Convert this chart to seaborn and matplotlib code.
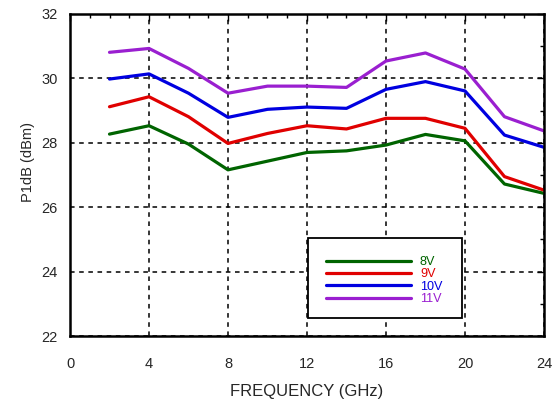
import matplotlib
matplotlib.use("Agg")
import matplotlib.pyplot as plt
import numpy as np
import pandas as pd
import seaborn as sns
from matplotlib.patches import Rectangle
from matplotlib.ticker import MultipleLocator

# Data
freq = [2, 4, 6, 8, 10, 12, 14, 16, 18, 20, 22, 24]
p1db_8v = [28.27, 28.53, 27.96, 27.16, 27.43, 27.70, 27.75, 27.93, 28.26, 28.06, 26.72, 26.43]
p1db_9v = [29.12, 29.43, 28.81, 27.98, 28.29, 28.53, 28.43, 28.76, 28.76, 28.45, 26.95, 26.53]
p1db_10v = [29.98, 30.14, 29.54, 28.79, 29.04, 29.11, 29.07, 29.66, 29.90, 29.61, 28.24, 27.86]
p1db_11v = [30.81, 30.93, 30.31, 29.54, 29.76, 29.76, 29.72, 30.54, 30.79, 30.29, 28.81, 28.37]
voltages = ["8V", "9V", "10V", "11V"]
colors = ["#006400", "#e00000", "#0000e0", "#9a1fd0"]

df = pd.DataFrame({
    "freq": freq * 4,
    "p1db": p1db_8v + p1db_9v + p1db_10v + p1db_11v,
    "volt": [v for v in voltages for _ in freq],
})

sns.set_style("white")
plt.rcParams["font.family"] = ["Liberation Sans", "DejaVu Sans"]

fig = plt.figure(figsize=(5.53, 4.0), dpi=100)
ax = fig.add_axes([0.1266, 0.16, 0.8571, 0.805])

sns.lineplot(data=df, x="freq", y="p1db", hue="volt", hue_order=voltages,
             palette=colors, linewidth=2.3, ax=ax, legend=False)

ax.set_xlim(0, 24)
ax.set_ylim(22, 32)
ax.xaxis.set_major_locator(MultipleLocator(4))
ax.xaxis.set_minor_locator(MultipleLocator(1))
ax.yaxis.set_major_locator(MultipleLocator(2))
ax.yaxis.set_minor_locator(MultipleLocator(1))
ax.tick_params(which="both", direction="in", top=True, right=True,
               color="black", labelsize=10.5, width=1.0)
ax.tick_params(which="major", length=5)
ax.tick_params(axis="x", which="major", pad=15)
ax.tick_params(axis="y", which="major", pad=9)
ax.tick_params(which="minor", length=3)
ax.grid(True, which="major", color="black", linestyle=(0, (3, 3)), linewidth=1.1)
for s in ax.spines.values():
    s.set_color("black")
    s.set_linewidth(1.8)

ax.set_xlabel("FREQUENCY (GHz)", fontsize=12)
ax.set_ylabel("P1dB (dBm)", fontsize=10.5)
ax.xaxis.set_label_coords(0.5, -0.148)
ax.yaxis.set_label_coords(-0.074, 0.54)

# legend box
ax.add_patch(Rectangle((0.502, 0.056), 0.325, 0.248, transform=ax.transAxes,
                       facecolor="white", edgecolor="black", linewidth=1.3, zorder=5))
handles = [plt.Line2D([], [], color=c, linewidth=2.3) for c in colors]
leg = ax.legend(handles, voltages, loc="center left", bbox_to_anchor=(0.517, 0.172),
                frameon=False, fontsize=9.1, handlelength=6.7, handletextpad=0.7,
                labelspacing=0.02, labelcolor=colors)
leg.set_zorder(6)

fig.savefig("out.png", dpi=100)
